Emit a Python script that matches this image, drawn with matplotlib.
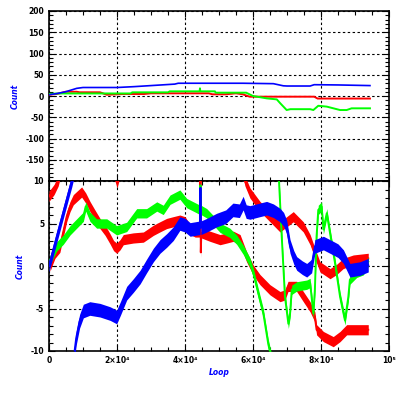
import matplotlib
matplotlib.use("Agg")
import matplotlib.pyplot as plt
from matplotlib.ticker import MultipleLocator, FixedLocator

# ---------------- data: top panel (wide range) ----------------
top_blue_x = [0, 2500, 4900, 8150, 10000, 20000, 25000, 29000, 33000, 37000, 38000,
              44000, 57000, 66000, 68900, 70000, 76800, 78000, 85000, 94400]
top_blue_y = [3, 6, 10, 18, 20, 20, 22, 24, 26, 28, 30,
              30, 30, 29, 24, 23.5, 23.5, 26.6, 26, 24.5]

top_red_x = [0, 2500, 4900, 8150, 9000, 15000, 17000, 22000, 28000, 30000, 47000,
             48000, 52000, 55000, 57000, 59000, 78000, 79000, 94400]
top_red_y = [3, 5, 10, 10, 8.7, 8.7, 3, 4.7, 4.7, 6.3, 6.3,
             4, 4, 6.3, 4, -1.6, -1.6, -6, -6]

top_green_x = [0, 3000, 5000, 24000, 24500, 35000, 35500, 44300, 44400, 44500, 48800,
               49000, 58000, 60000, 64000, 67000, 68000, 69900, 71000, 76800, 77750,
               79200, 81700, 85600, 87550, 89000, 94400]
top_green_y = [5, 6, 6, 6, 8.6, 8.6, 11, 11, 18, 11, 11,
               7.8, 7.8, 0, -5.5, -8, -17, -33, -31, -31, -33,
               -23, -25, -33, -33, -29, -29]

# ---------------- data: bottom panel (zoomed range) ----------------
bot_red_a1_x = [0, 1500, 2700, 3200]
bot_red_a1_y = [8.2, 9.0, 10.0, 10.8]
bot_red_a2_x = [19300, 20000, 20700]
bot_red_a2_y = [10.8, 9.8, 10.8]
bot_red_a3_x = [57300, 57650, 59100, 62050, 65000, 67950, 69900, 71850, 74800, 76800,
                78200, 79700, 82650, 84600, 86550, 89500, 93900]
bot_red_a3_y = [10.6, 10.0, 8.6, 7.0, 5.8, 4.6, 5.2, 5.8, 4.6, 3.1,
                1.5, -0.1, -0.9, -0.4, 0.3, 0.7, 0.9]

bot_red_b_x = [300, 1750, 3200, 4200, 5200, 6200, 7150, 8500, 9600, 10800, 12050, 13500,
               15000, 16500, 17950, 19000, 19900, 20900, 21850, 24800, 27750, 30700,
               32600, 34600, 36500, 38500, 40000, 41500, 43000, 44400, 44550, 44650,
               44800, 47350, 50300, 52300, 54200, 56200, 58100, 60100, 62050, 65000,
               67950, 69400, 70300, 72850, 74800, 76800, 78200, 78700, 80700, 83600,
               85600, 87550, 90500, 93900]
bot_red_b_y = [0, 1.5, 2.2, 4.0, 5.8, 7.0, 7.8, 8.3, 8.7, 8.0, 7.0, 6.0,
               5.0, 4.2, 3.2, 2.4, 2.1, 2.5, 3.1, 3.3, 3.4, 4.2,
               4.6, 5.0, 5.2, 5.4, 5.2, 4.3, 4.0, 4.0, 11.0, 1.6,
               3.9, 3.5, 3.1, 3.3, 3.5, 3.1, 1.1, -0.5, -1.6, -2.8,
               -3.6, -3.4, -2.4, -2.4, -3.6, -4.8, -6.0, -7.5, -8.3, -8.9,
               -8.3, -7.5, -7.5, -7.5]

bot_green_a_x = [300, 2250, 4200, 6200, 8150, 10100, 10800, 12050, 14000, 17000, 19900,
                 22850, 25800, 28700, 31700, 33600, 35600, 38500, 40500, 43450, 44400,
                 44550, 44700, 46400, 48300, 50300, 53200, 55200, 57150, 59100, 60100,
                 61550, 63050, 64500, 65300]
bot_green_a_y = [0.7, 2.3, 3.1, 4.2, 5.0, 5.8, 7.0, 5.8, 5.0, 5.0, 4.2,
                 4.6, 6.2, 6.2, 7.0, 6.6, 7.8, 8.4, 7.4, 6.8, 6.6,
                 9.5, 6.6, 6.2, 5.4, 4.5, 3.9, 3.1, 1.9, 0.4, -0.8,
                 -3.2, -5.6, -9.2, -10.6]
bot_green_b_x = [67500, 67650, 68450, 69400, 70400, 70900, 71400, 72850, 75800, 76800,
                 77750, 78200, 78700, 79200, 80200, 80700, 81700, 82650, 84100, 85600,
                 87050, 88050, 88500, 90500, 92450, 93900]
bot_green_b_y = [10.6, 10.0, 3.5, -3.6, -6.8, -5.6, -2.8, -2.4, -2.2, -2.0,
                 -5.6, -2.8, 3.5, 6.6, 7.0, 4.3, 6.2, 3.9, 0.4, -3.6,
                 -6.4, -3.6, -1.6, -0.8, -0.5, 0.5]

bot_blue_a_x = [0, 3000, 6700, 7300]
bot_blue_a_y = [0, 4.5, 10.0, 11.0]
bot_blue_b_x = [7350, 8000, 9000, 10100, 12000, 15000, 18000, 19900, 21000, 22850, 24800,
                26800, 28700, 30700, 32650, 34600, 36550, 38500, 40000, 41500, 43000,
                44400, 44550, 44700, 46400, 49300, 52000, 54100, 56000, 57100, 58000,
                59100, 62000, 64000, 66000, 67900, 69000, 69900, 70900, 72000, 72850,
                74500, 75800, 77250, 78200, 80700, 83600, 85000, 86600, 88500, 90000,
                91500, 93900]
bot_blue_b_y = [-10.6, -8.5, -6.5, -5.3, -5.0, -5.2, -5.6, -6.0, -5.0, -3.2, -2.3,
                -1.3, 0.0, 1.3, 2.3, 3.0, 3.8, 5.0, 4.8, 4.3, 4.4,
                4.5, 9.2, 4.5, 4.8, 5.4, 5.8, 6.6, 6.5, 7.4, 6.4,
                6.3, 6.6, 6.8, 6.5, 6.0, 5.5, 4.6, 2.3, 1.0, 0.3,
                -0.2, -0.5, 0.0, 2.3, 2.7, 2.1, 1.8, 1.1, -0.5, -0.4,
                -0.3, 0.1]

x_ticks = [0, 20000, 40000, 60000, 80000, 100000]
x_tick_labels = ["0", "2\u00d710\u2074", "4\u00d710\u2074", "6\u00d710\u2074",
                 "8\u00d710\u2074", "10\u2075"]
top_y_ticks = [200, 150, 100, 50, 0, -50, -100, -150]
bot_y_ticks = [10, 5, 0, -5, -10]

RED, GREEN, BLUE = "#ff0000", "#00ff00", "#0000ff"
FS = 5.5
FONT = dict(family="DejaVu Sans", weight="bold", size=FS)

fig = plt.figure(figsize=(3.99, 3.99), dpi=100)
W = 340 / 399
H = 170 / 399
L = 49 / 399
ax_top = fig.add_axes([L, (399 - 181) / 399, W, H])
ax_bot = fig.add_axes([L, (399 - 351) / 399, W, H])

def style(ax, ymajor, yminor, ylim, label_x):
    ax.set_xlim(0, 100000)
    ax.set_ylim(*ylim)
    ax.xaxis.set_major_locator(FixedLocator(x_ticks))
    ax.xaxis.set_minor_locator(MultipleLocator(5000))
    ax.yaxis.set_minor_locator(MultipleLocator(yminor))
    ax.tick_params(which="both", direction="in", top=True, right=True,
                   color="black", width=0.8)
    ax.tick_params(which="major", length=4, pad=3.5)
    ax.tick_params(which="minor", length=3)
    ax.grid(True, which="major", color="black", linestyle=(0, (2.2, 2.2)), linewidth=0.8)
    for s in ax.spines.values():
        s.set_linewidth(1.2)
        s.set_color("black")
    ax.set_ylabel("Count", color=BLUE, fontsize=FS, fontweight="bold",
                  fontstyle="italic")
    ax.yaxis.set_label_coords(label_x, 0.5)

style(ax_top, 50, 10, (-200, 200), -0.087)
style(ax_bot, 5, 1, (-10, 10), -0.072)

# top panel tick labels (-200 is overdrawn by the lower panel)
ax_top.yaxis.set_major_locator(FixedLocator(top_y_ticks + [-200]))
ax_top.set_yticklabels([str(v) for v in top_y_ticks] + [""], **FONT)
ax_top.set_xticklabels([])

ax_bot.yaxis.set_major_locator(FixedLocator(bot_y_ticks))
ax_bot.set_yticklabels([str(v) for v in bot_y_ticks], **FONT)
ax_bot.set_xticklabels(x_tick_labels, **FONT)
ax_bot.set_xlabel("Loop", color=BLUE, fontsize=FS, fontweight="bold",
                  fontstyle="italic", labelpad=2)

# top panel lines
ax_top.plot(top_red_x, top_red_y, color=RED, lw=1.4, zorder=3)
ax_top.plot(top_green_x, top_green_y, color=GREEN, lw=1.4, zorder=4)
ax_top.plot(top_blue_x, top_blue_y, color=BLUE, lw=1.2, zorder=5)

# bottom panel noisy bands
def band(ax, x, y, color, hw, z):
    lo = [v - hw for v in y]
    hi = [v + hw for v in y]
    ax.fill_between(x, lo, hi, color=color, lw=0, zorder=z)
    ax.plot(x, y, color=color, lw=1.4, zorder=z)

band(ax_bot, bot_red_a1_x, bot_red_a1_y, RED, 0.6, 3)
band(ax_bot, bot_red_a2_x, bot_red_a2_y, RED, 0.6, 3)
band(ax_bot, bot_red_a3_x, bot_red_a3_y, RED, 0.6, 3)
band(ax_bot, bot_red_b_x, bot_red_b_y, RED, 0.6, 3)
band(ax_bot, bot_green_a_x, bot_green_a_y, GREEN, 0.55, 4)
band(ax_bot, bot_green_b_x, bot_green_b_y, GREEN, 0.55, 4)
band(ax_bot, bot_blue_a_x, bot_blue_a_y, BLUE, 0.7, 5)
band(ax_bot, bot_blue_b_x, bot_blue_b_y, BLUE, 0.8, 5)

fig.savefig("out.png", dpi=100, facecolor="white")
